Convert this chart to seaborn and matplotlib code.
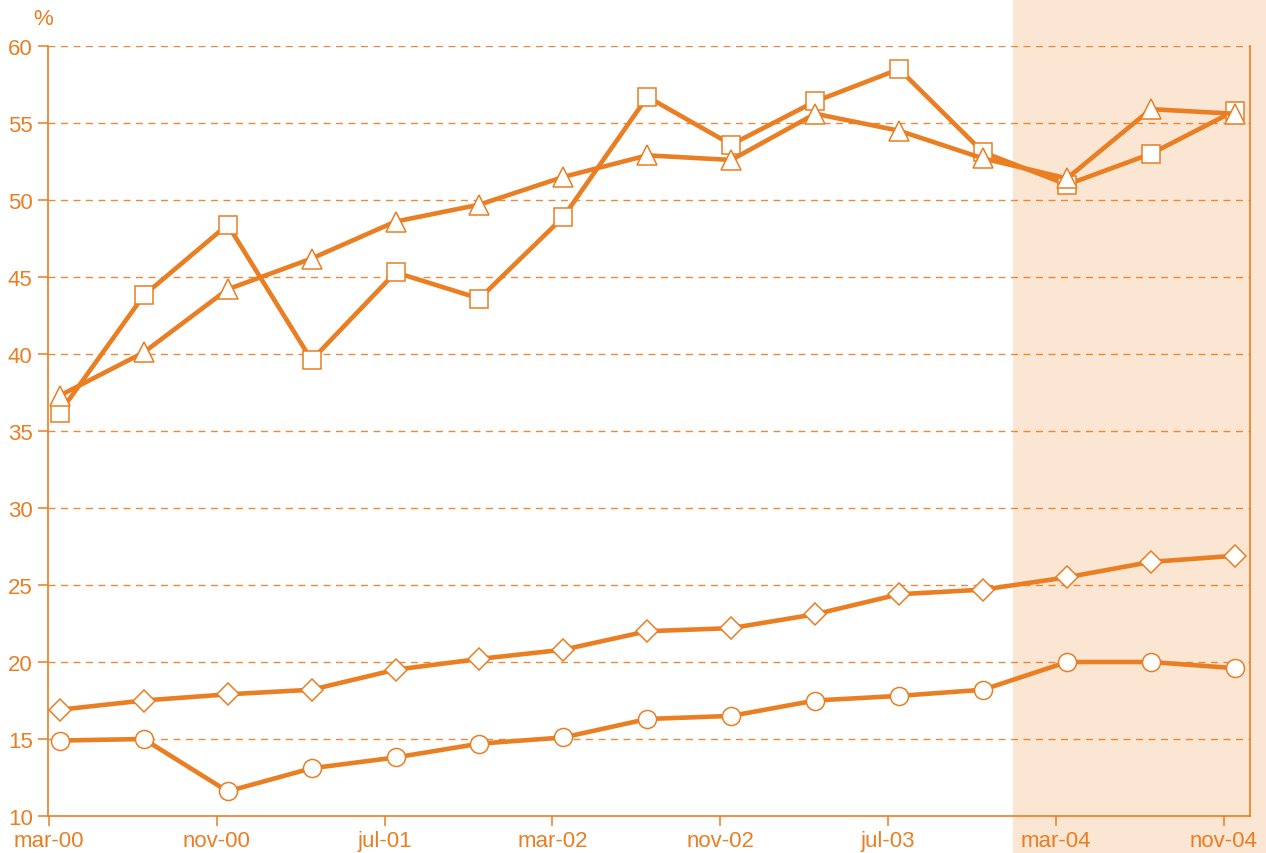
import matplotlib
matplotlib.use('Agg')
import matplotlib.pyplot as plt
import seaborn as sns
import pandas as pd
import numpy as np

months = ['mar-00', 'jul-00', 'nov-00', 'mar-01', 'jul-01', 'nov-01', 'mar-02', 'jul-02',
          'nov-02', 'mar-03', 'jul-03', 'nov-03', 'mar-04', 'jul-04', 'nov-04']
squares = [36.2, 43.8, 48.4, 39.6, 45.3, 43.6, 48.9, 56.7, 53.6, 56.4, 58.5, 53.1, 51.0, 53.0, 55.8]
triangles = [37.3, 40.1, 44.2, 46.2, 48.6, 49.7, 51.5, 52.9, 52.6, 55.6, 54.5, 52.7, 51.4, 55.9, 55.6]
diamonds = [16.9, 17.5, 17.9, 18.2, 19.5, 20.2, 20.8, 22.0, 22.2, 23.1, 24.4, 24.7, 25.5, 26.5, 26.9]
circles = [14.9, 15.0, 11.6, 13.1, 13.8, 14.7, 15.1, 16.3, 16.5, 17.5, 17.8, 18.2, 20.0, 20.0, 19.6]
tick_labels = ['mar-00', 'nov-00', 'jul-01', 'mar-02', 'nov-02', 'jul-03', 'mar-04', 'nov-04']

orange = '#E97E22'
shade = '#FBE5D3'

sns.set_style('white')
plt.rcParams['font.family'] = ['Liberation Sans', 'DejaVu Sans']

df = pd.DataFrame({'pos': np.arange(len(months)), 'month': months,
                   'sq': squares, 'tri': triangles, 'dia': diamonds, 'cir': circles})

fig = plt.figure(figsize=(12.66, 8.54), dpi=100)
ax = fig.add_axes([48 / 1266, 1 - 817 / 854, (1250 - 48) / 1266, (817 - 47) / 854])
ax.patch.set_alpha(0)

# shaded forecast zone, reaching outside the axes
ax.axvspan(11.36, 14.6, ymin=-0.1, ymax=1.1, color=shade, lw=0, clip_on=False, zorder=0)

for col, mk, ms in [('cir', 'o', 13), ('dia', 'D', 11.5), ('sq', 's', 13), ('tri', '^', 15)]:
    sns.lineplot(data=df, x='pos', y=col, ax=ax, color=orange, lw=3.3, marker=mk, markersize=ms,
                 markerfacecolor='white', markeredgecolor=orange, markeredgewidth=1.1, zorder=3)

ax.set_xlim(-0.14, 14.18)
ax.set_ylim(10, 60)
ax.set_yticks(np.arange(10, 61, 5))
ax.set_xticks(np.arange(0, 15, 2) - 0.13)
ax.set_xticklabels(tick_labels)
ax.set_xlabel('')
ax.set_ylabel('')

for y in np.arange(15, 61, 5):
    ax.axhline(y, color=orange, lw=1, ls=(0, (5, 4)), zorder=1, alpha=0.9)

for s in ['left', 'bottom', 'right']:
    ax.spines[s].set_color(orange)
    ax.spines[s].set_linewidth(1.2)
ax.spines['top'].set_visible(False)
ax.spines['right'].set_bounds(10, 60)

ax.tick_params(axis='both', colors=orange, labelcolor=orange, labelsize=16,
               direction='out', length=7, width=1.1, left=True, bottom=True)
ax.tick_params(axis='y', pad=4)
ax.tick_params(axis='x', pad=3)

ax.text(-0.004, 1.022, '%', transform=ax.transAxes, color=orange, fontsize=16,
        ha='center', va='bottom')

fig.savefig('out.png', dpi=100)
